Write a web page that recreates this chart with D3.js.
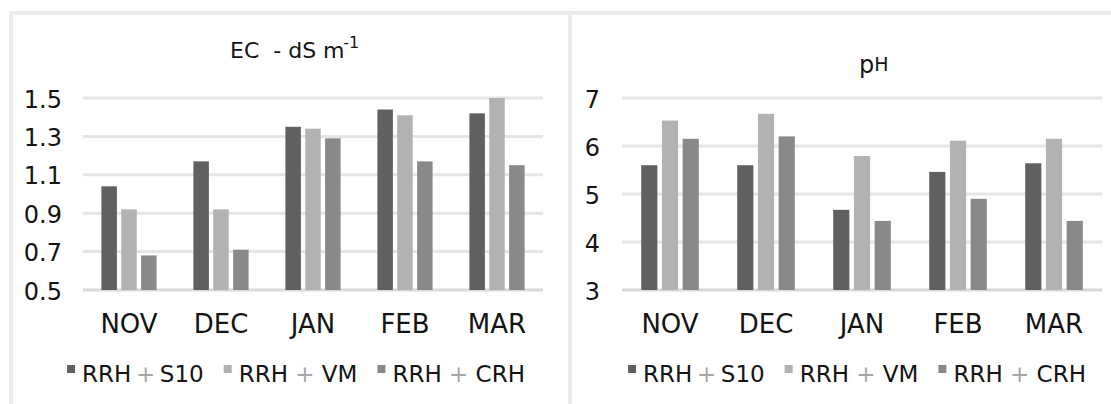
<!DOCTYPE html>
<meta charset="utf-8">
<style>
  body { margin: 0; background: #fff; }
  text { font-family: "DejaVu Sans", Verdana, sans-serif; fill: #141414; white-space: pre; }
</style>
<body>
<script src="https://d3js.org/d3.v7.min.js"></script>
<script>

var width = 1111,
    height = 404;

// data
var months = ["NOV", "DEC", "JAN", "FEB", "MAR"];
var seriesNames = ["RRH+S10", "RRH + VM", "RRH + CRH"];
var seriesColors = ["#606060", "#b2b2b2", "#898989"];

var ecS10 = [1.04, 1.17, 1.35, 1.44, 1.42],
    ecVM  = [0.92, 0.92, 1.34, 1.41, 1.50],
    ecCRH = [0.68, 0.71, 1.29, 1.17, 1.15];
var ecTicks = [0.5, 0.7, 0.9, 1.1, 1.3, 1.5];

var phS10 = [5.60, 5.60, 4.67, 5.46, 5.64],
    phVM  = [6.53, 6.67, 5.79, 6.11, 6.15],
    phCRH = [6.15, 6.20, 4.44, 4.90, 4.44];
var phTicks = [3, 4, 5, 6, 7];

var svg = d3.select("body").append("svg")
    .attr("width", width)
    .attr("height", height);

// panel frames
svg.append("line").attr("x1", 9).attr("x2", width).attr("y1", 13).attr("y2", 13)
    .attr("stroke", "#ebebeb").attr("stroke-width", 4);
[11, 570].forEach(function(x) {
  svg.append("line").attr("x1", x).attr("x2", x).attr("y1", 11).attr("y2", height)
      .attr("stroke", "#ebebeb").attr("stroke-width", 4);
});

function drawPanel(p) {
  var g = svg.append("g");

  var x0 = d3.scaleBand().domain(months).range([p.left, p.right]);
  var bw = x0.bandwidth();
  var x1 = d3.scaleBand().domain(d3.range(3))
      .range([bw * 0.2, bw * 0.8]).paddingInner(0.22);
  var y = d3.scaleLinear().domain(d3.extent(p.ticks)).range([290, 98]);

  // gridlines
  g.selectAll(".grid").data(p.ticks).enter().append("line")
      .attr("x1", p.left).attr("x2", p.right)
      .attr("y1", d => y(d)).attr("y2", d => y(d))
      .attr("stroke", (d, i) => i == 0 ? "#d9d9d9" : "#e5e5e5")
      .attr("stroke-width", 3);

  // y labels
  var yAxis = d3.axisLeft(y).tickValues(p.ticks).tickFormat(p.fmt).tickSize(0).tickPadding(0);
  var ya = g.append("g").attr("transform", "translate(" + p.labelX + ",0)").call(yAxis);
  ya.select(".domain").remove();
  ya.selectAll("text").style("font-size", "24px").attr("fill", null)
      .attr("font-family", null).attr("dy", "0.38em");

  // bars
  var rows = months.map((m, i) => ({ m: m, v: p.values.map(s => s[i]) }));
  g.selectAll(".grp").data(rows).enter().append("g")
      .attr("transform", d => "translate(" + x0(d.m) + ",0)")
    .selectAll("rect").data(d => d.v).enter().append("rect")
      .attr("x", (d, i) => x1(i))
      .attr("width", x1.bandwidth())
      .attr("y", d => y(d))
      .attr("height", d => y(p.ticks[0]) - y(d))
      .attr("fill", (d, i) => seriesColors[i]);

  // x labels
  var xAxis = d3.axisBottom(x0).tickSize(0).tickPadding(0);
  var xa = g.append("g").attr("transform", "translate(0,333)").call(xAxis);
  xa.select(".domain").remove();
  xa.selectAll("text").style("font-size", "26px").attr("fill", null)
      .attr("font-family", null).attr("dy", 0).attr("y", 0);

  // title
  p.title(g);

  // legend
  var lg = g.append("g");
  var cx = 0;
  seriesNames.forEach(function(name, i) {
    lg.append("rect").attr("x", cx).attr("y", -17).attr("width", 8).attr("height", 8)
        .attr("fill", seriesColors[i]);
    var t = lg.append("text").attr("x", cx + 15).style("font-size", "23px");
    var parts = name.split("+");
    t.append("tspan").text(parts[0]);
    t.append("tspan").style("fill", "#a6a6a6")
        .text(parts[0].endsWith(" ") ? "+" : "\u2009+\u2009");
    t.append("tspan").text(parts[1]);
    cx += 15 + t.node().getComputedTextLength() + 20;
  });
  var total = cx - 20;
  lg.attr("transform", "translate(" + (p.legendX - total / 2) + ",382)");
}

drawPanel({
  left: 83, right: 543, labelX: 62, ticks: ecTicks, fmt: d3.format(".1f"),
  values: [ecS10, ecVM, ecCRH], legendX: 296,
  title: function(g) {
    var t = g.append("text").attr("x", 230).attr("y", 58).style("font-size", "22px");
    t.append("tspan").text("EC  - dS m");
    t.append("tspan").attr("dx", -1).attr("dy", -10).style("font-size", "15px").text("-");
    t.append("tspan").style("font-size", "16px").text("1");
  }
});

drawPanel({
  left: 622, right: 1102, labelX: 600, ticks: phTicks, fmt: d3.format("d"),
  values: [phS10, phVM, phCRH], legendX: 857,
  title: function(g) {
    var t = g.append("text").attr("x", 859).attr("y", 73).style("font-size", "24px");
    t.append("tspan").text("p");
    t.append("tspan").attr("dy", -2).style("font-size", "19px").text("H");
  }
});

</script>
